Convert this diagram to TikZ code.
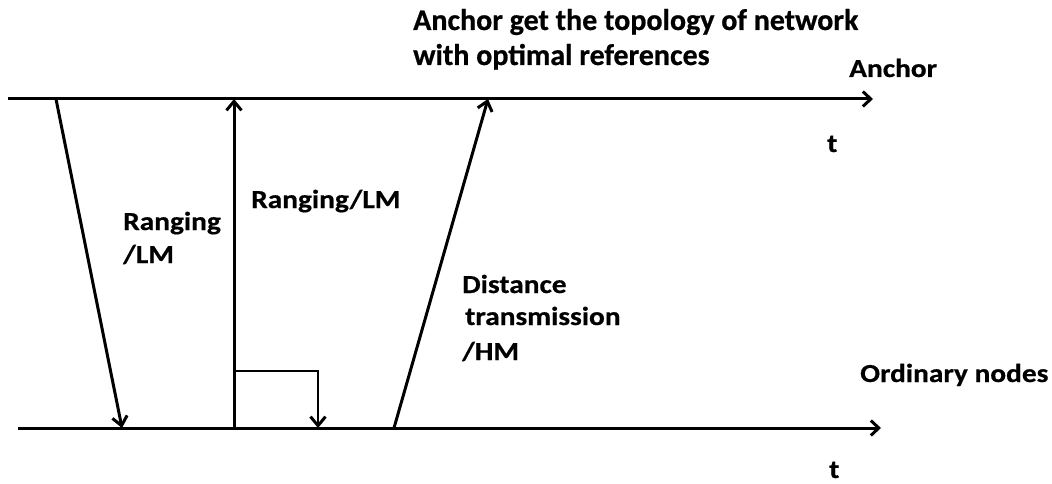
\documentclass[tikz,border=0pt]{standalone}
\usepackage{fontspec}
\setmainfont{Carlito}[BoldFeatures={FakeBold=0.6}]
\newfontfamily\widefont{Carlito}[FakeStretch=1.13,BoldFeatures={FakeBold=0.6}]
\usetikzlibrary{arrows.meta}
\begin{document}
\begin{tikzpicture}[x=1pt,y=1pt,
  axis/.style={line width=3pt,-{Straight Barb[length=8pt,width=15pt,line width=3pt]}},
  msg/.style={line width=3pt,-{Straight Barb[length=9pt,width=15pt,line width=3pt]}},
  lbl/.style={inner sep=0pt,anchor=base west,font=\widefont\bfseries\fontsize{26}{30}\selectfont},
  ttl/.style={inner sep=0pt,anchor=base west,font=\bfseries\fontsize{30}{34}\selectfont}]
\useasboundingbox (0,0) rectangle (1052,483);
% time axes
\coordinate (a0) at (8,384);
\coordinate (a1) at (873,384);
\coordinate (b0) at (18,55);
\coordinate (b1) at (881,55);
\draw[axis] (a0) -- (a1);
\draw[axis] (b0) -- (b1);
% messages
\coordinate (m1s) at (56,384);
\coordinate (m1e) at (122,55);
\draw[msg] (m1s) -- (m1e);
\coordinate (m2s) at (234,55);
\coordinate (m2e) at (234,384);
\draw[msg] (m2s) -- (m2e);
\coordinate (r0) at (234,112);
\coordinate (r1) at (318,112);
\coordinate (r2) at (318,55);
\draw[msg,line width=2.5pt] (r0) -- (r1) -- (r2);
\coordinate (m3s) at (394,55);
\coordinate (m3e) at (488,384);
\draw[msg] (m3s) -- (m3e);
% labels
\node[lbl] (l1a) at (123,253) {Ranging};
\node[lbl] (l1b) at (123,220) {/LM};
\node[lbl] (l2) at (251,275) {Ranging/LM};
\node[lbl] (l3a) at (462,190) {Distance};
\node[lbl] (l3b) at (465,158) {transmission};
\node[lbl] (l3c) at (462,123) {/HM};
\node[ttl] (tt1) at (413,453) {Anchor get the topology of network};
\node[ttl] (tt2) at (413,418) {with optimal references};
\node[lbl] (anc) at (849,406) {Anchor};
\node[lbl] (t1) at (827,331) {t};
\node[lbl] (ord) at (860,101) {Ordinary nodes};
\node[lbl] (t2) at (829,5) {t};
\end{tikzpicture}
\end{document}
